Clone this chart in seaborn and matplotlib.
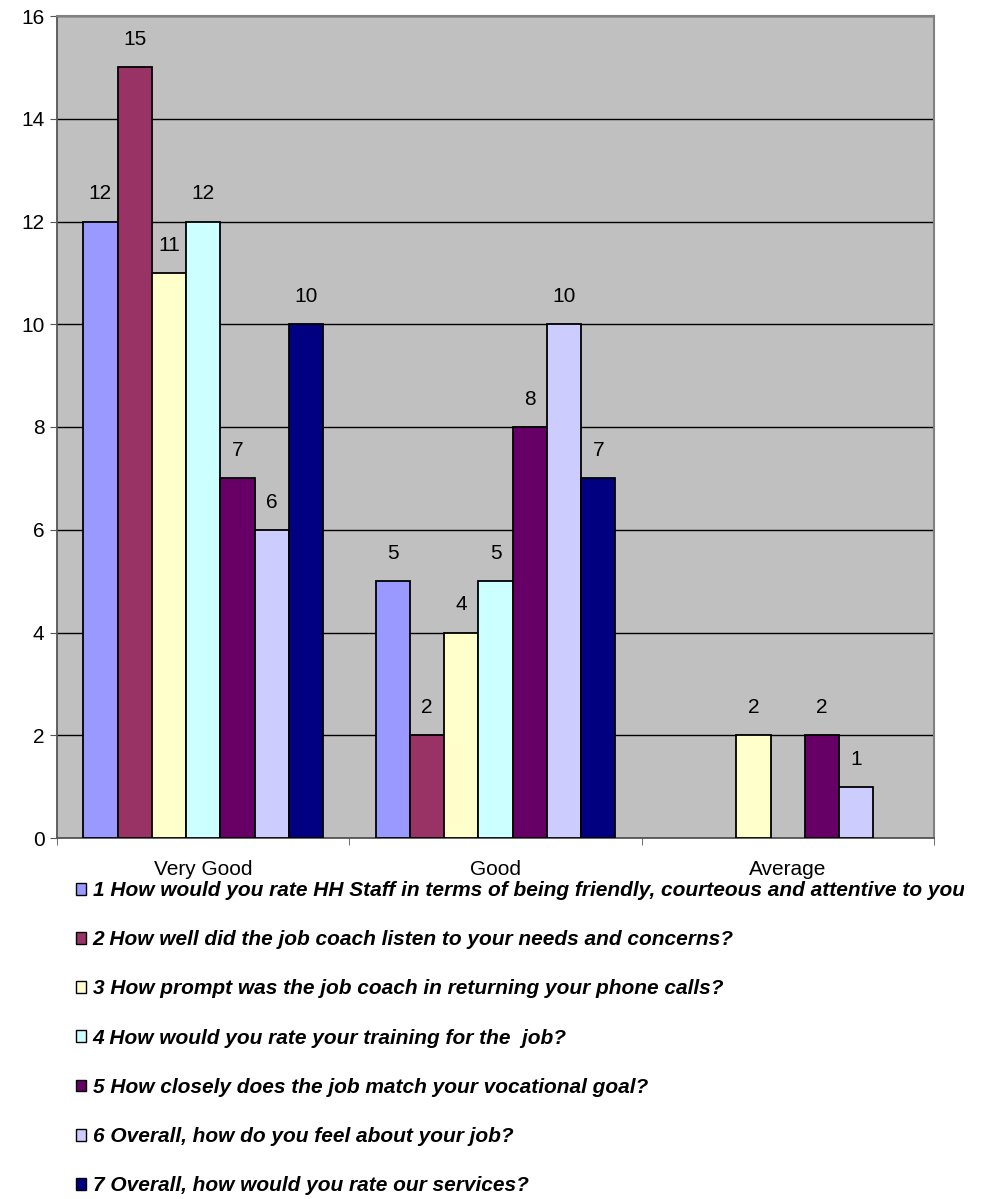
import numpy as np
import pandas as pd
import matplotlib
matplotlib.use("Agg")
import matplotlib.pyplot as plt
import matplotlib.patches as mpatches
import seaborn as sns

categories = ["Very Good", "Good", "Average"]
questions = [
    "1 How would you rate HH Staff in terms of being friendly, courteous and attentive to you?",
    "2 How well did the job coach listen to your needs and concerns?",
    "3 How prompt was the job coach in returning your phone calls?",
    "4 How would you rate your training for the  job?",
    "5 How closely does the job match your vocational goal?",
    "6 Overall, how do you feel about your job?",
    "7 Overall, how would you rate our services?",
]
q1 = [12, 5, np.nan]
q2 = [15, 2, np.nan]
q3 = [11, 4, 2]
q4 = [12, 5, np.nan]
q5 = [7, 8, 2]
q6 = [6, 10, 1]
q7 = [10, 7, np.nan]
series = [q1, q2, q3, q4, q5, q6, q7]
colors = ["#9999FF", "#993366", "#FFFFCC", "#CCFFFF", "#660066", "#CCCCFF", "#000080"]

rows = []
for q, vals in zip(questions, series):
    for c, v in zip(categories, vals):
        rows.append({"category": c, "question": q, "value": v})
df = pd.DataFrame(rows)

sns.set_style("white")
plt.rcParams["font.family"] = ["Liberation Sans", "DejaVu Sans"]
plt.rcParams["text.color"] = "black"
plt.rcParams["xtick.color"] = "black"
plt.rcParams["ytick.color"] = "black"

fig = plt.figure(figsize=(9.83, 11.99), dpi=100)
W, H = 983, 1199
ax = fig.add_axes([57 / W, 1 - 838 / H, 877 / W, (838 - 16) / H])
ax.set_facecolor("#C0C0C0")

sns.barplot(data=df, x="category", y="value", hue="question", hue_order=questions,
            order=categories, palette=colors, width=0.82, edgecolor="black",
            linewidth=1.3, saturation=1, ax=ax, legend=True, zorder=3, errorbar=None)

for cont in ax.containers:
    labels = ["" if np.isnan(b.get_height()) or b.get_height() == 0 else f"{int(b.get_height())}"
              for b in cont]
    ax.bar_label(cont, labels=labels, padding=13, fontsize=15, color="black")

ax.set_ylim(0, 16)
ax.set_xlim(-0.5, 2.5)
ax.set_yticks(range(0, 17, 2))
ax.yaxis.grid(True, color="black", linewidth=1, zorder=1)
ax.set_axisbelow(True)
ax.set_xlabel("")
ax.set_ylabel("")
ax.tick_params(axis="y", labelsize=15, length=5, pad=4, direction="out", left=True,
               color="#555555", labelcolor="black")
ax.tick_params(axis="x", labelsize=15, length=0, pad=16, labelcolor="black")
ax.set_xticks([0, 1, 2])
ax.set_xticks([-0.5, 0.5, 1.5, 2.5], minor=True)
ax.tick_params(axis="x", which="minor", length=5, bottom=True, color="#555555")
for s in ["left", "bottom"]:
    ax.spines[s].set_color("#555555")
    ax.spines[s].set_linewidth(1.3)
for s in ["right", "top"]:
    ax.spines[s].set_color("#808080")
    ax.spines[s].set_linewidth(1.5)

handles, labels = ax.get_legend_handles_labels()
ax.get_legend().remove()
leg = fig.legend(handles, labels, loc="upper left", bbox_to_anchor=(76 / W, 1 - 881 / H),
                 frameon=False, borderpad=0, borderaxespad=0,
                 handlelength=0.5, handleheight=0.5, handletextpad=0.3,
                 labelspacing=1.45, prop={"size": 15, "weight": "bold", "style": "italic"})
clip_rect = mpatches.Rectangle((0, 0), 964 / W, 1, transform=fig.transFigure,
                               facecolor="none", edgecolor="none")
fig.add_artist(clip_rect)
for t in leg.get_texts():
    t.set_color("black")
    t.set_clip_path(clip_rect)
    t.set_clip_on(True)
for h in leg.legend_handles:
    h.set_edgecolor("black")
    h.set_linewidth(1.0)

fig.savefig("out.png", dpi=100)
